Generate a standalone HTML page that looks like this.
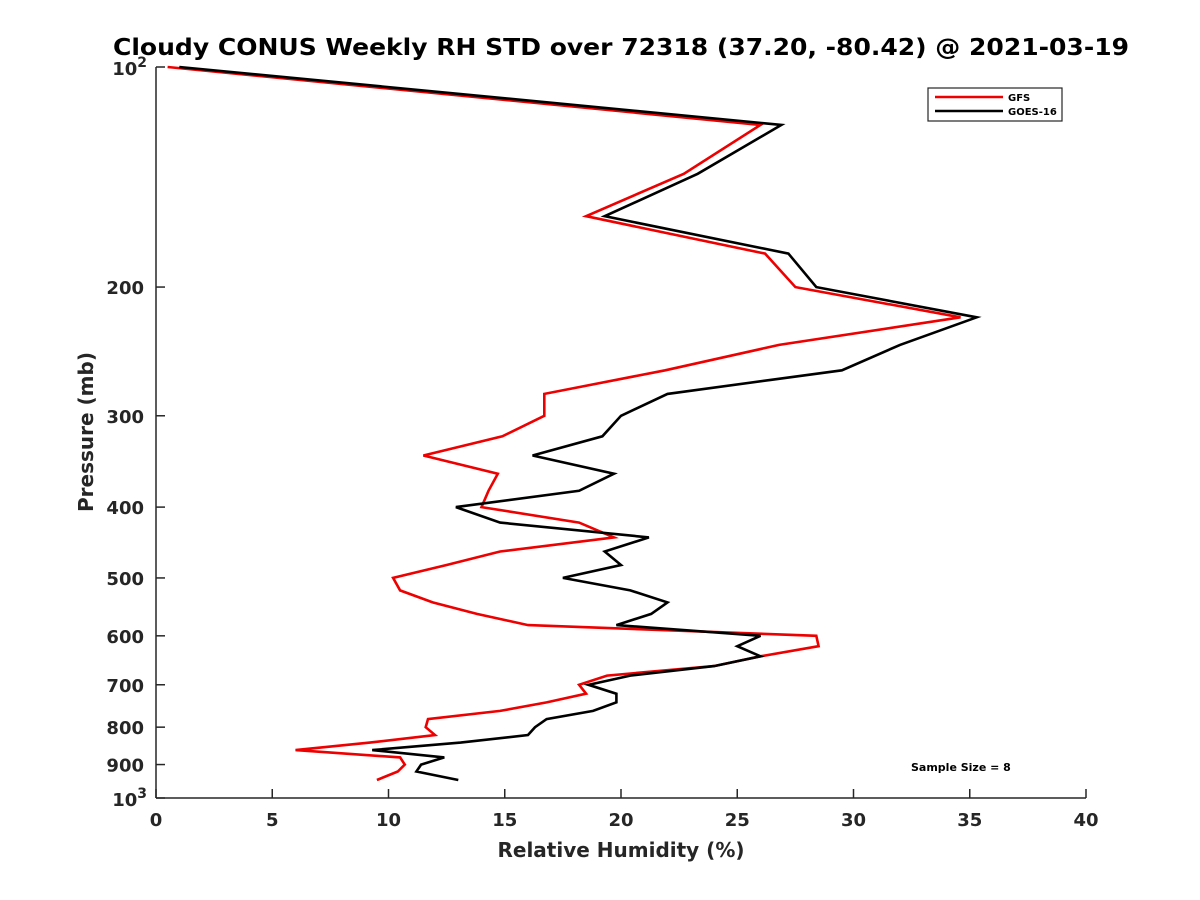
<!DOCTYPE html>
<html><head><meta charset="utf-8"><style>
body{margin:0;background:#fff;}
svg{display:block;font-family:"DejaVu Sans","Liberation Sans",sans-serif;}
</style></head><body>
<svg id="chart" width="1200" height="900" viewBox="0 0 1200 900">
<rect width="1200" height="900" fill="#fff"/>
<text x="621" y="55" text-anchor="middle" font-size="23" font-weight="bold" fill="#000" textLength="1016" lengthAdjust="spacingAndGlyphs">Cloudy CONUS Weekly RH STD over 72318 (37.20, -80.42) @ 2021-03-19</text>
<g id="axes"></g>
<g id="series"></g>
<text x="621" y="857" text-anchor="middle" font-size="20" font-weight="bold" fill="#262626">Relative Humidity (%)</text>
<text transform="translate(93,432) rotate(-90)" text-anchor="middle" font-size="20" font-weight="bold" fill="#262626">Pressure (mb)</text>
<text x="911" y="771" font-size="11" font-weight="bold" fill="#000">Sample Size = 8</text>
<g>
<rect x="928" y="88" width="134" height="33" fill="#fff" stroke="#262626" stroke-width="1.2"/>
<line x1="935" y1="97" x2="1003" y2="97" stroke="#e00" stroke-width="2.5"/>
<text x="1008" y="101" font-size="10" font-weight="bold" fill="#000">GFS</text>
<line x1="935" y1="111" x2="1003" y2="111" stroke="#000" stroke-width="2.5"/>
<text x="1008" y="115" font-size="10" font-weight="bold" fill="#000">GOES-16</text>
</g>
</svg>
<script>
const pressures=[100,120,140,160,180,200,220,240,260,280,300,320,340,360,380,400,420,440,460,480,500,520,540,560,580,600,620,640,660,680,700,720,740,760,780,800,820,840,860,880,900,920,945];
const gfsValues=[0.5,26.0,22.7,18.5,26.2,27.5,34.6,26.8,21.9,16.7,16.7,14.9,11.5,14.7,14.3,14.0,18.2,19.7,14.8,12.5,10.2,10.5,11.9,13.8,16.0,28.4,28.5,26.0,24.0,19.4,18.2,18.5,16.8,14.8,11.7,11.6,12.0,9.2,6.0,10.5,10.7,10.4,9.5];
const goesValues=[1.0,26.9,23.3,19.3,27.2,28.4,35.3,32.0,29.5,22.0,20.0,19.2,16.2,19.7,18.2,12.9,14.8,21.2,19.3,20.0,17.5,20.4,22.0,21.3,19.8,26.0,25.0,26.0,24.0,20.4,18.6,19.8,19.8,18.8,16.8,16.3,16.0,13.1,9.3,12.4,11.4,11.2,13.0];
const xTicks=[0,5,10,15,20,25,30,35,40];
const yTicks=[100,200,300,400,500,600,700,800,900,1000];
const yTickLabels=["10^2","200","300","400","500","600","700","800","900","10^3"];

const NS="http://www.w3.org/2000/svg";
const X0=156,X1=1086,Y0=67,Y1=798;
const xs=v=>X0+(v-0)/(40-0)*(X1-X0);
const ys=p=>Y0+(Math.log10(p)-2)/(3-2)*(Y1-Y0);
function mk(tag,attrs,parent){const e=document.createElementNS(NS,tag);for(const k in attrs)e.setAttribute(k,attrs[k]);parent.appendChild(e);return e;}
const axes=document.getElementById('axes');
const yAxis=mk('line',{x1:X0,y1:Y0,x2:X0,y2:Y1,stroke:'#262626','stroke-width':1.5},axes);


const xAxis=mk('line',{x1:X0,y1:Y1,x2:X1,y2:Y1,stroke:'#262626','stroke-width':1.5},axes);


xTicks.forEach(v=>{
  const x=xs(v);
  const t=mk('line',{x1:x,y1:Y1,x2:x,y2:Y1-9,stroke:'#262626','stroke-width':1.5},axes);
  
  
  const l=mk('text',{x:x,y:Y1+28,'text-anchor':'middle','font-size':18,'font-weight':'bold',fill:'#262626'},axes);
  l.textContent=v;
  
  
});
yTicks.forEach((p,i)=>{
  const y=ys(p);
  const t=mk('line',{x1:X0,y1:y,x2:X0+9,y2:y,stroke:'#262626','stroke-width':1.5},axes);
  
  
  const lab=yTickLabels[i];
  if(lab.indexOf('^')>=0){
    const parts=lab.split('^');
    const l=mk('text',{x:X0-9,y:y+8,'text-anchor':'end','font-size':18,'font-weight':'bold',fill:'#262626'},axes);
    const a=mk('tspan',{},l);a.textContent=parts[0];
    const b=mk('tspan',{dy:-8,'font-size':14},l);b.textContent=parts[1];
    
    
  }else{
    const l=mk('text',{x:X0-12,y:y+7,'text-anchor':'end','font-size':18,'font-weight':'bold',fill:'#262626'},axes);
    l.textContent=lab;
    
    
  }
});
const series=document.getElementById('series');
function drawLine(vals,color,name){
  const pts=vals.map((v,i)=>xs(v).toFixed(1)+','+ys(pressures[i]).toFixed(1)).join(' ');
  const pl=mk('polyline',{points:pts,fill:'none',stroke:color,'stroke-width':2.6,'stroke-linejoin':'miter'},series);
  
  
}
drawLine(gfsValues,'#e00','gfs-line');
drawLine(goesValues,'#000','goes16-line');
</script>
</body></html>
